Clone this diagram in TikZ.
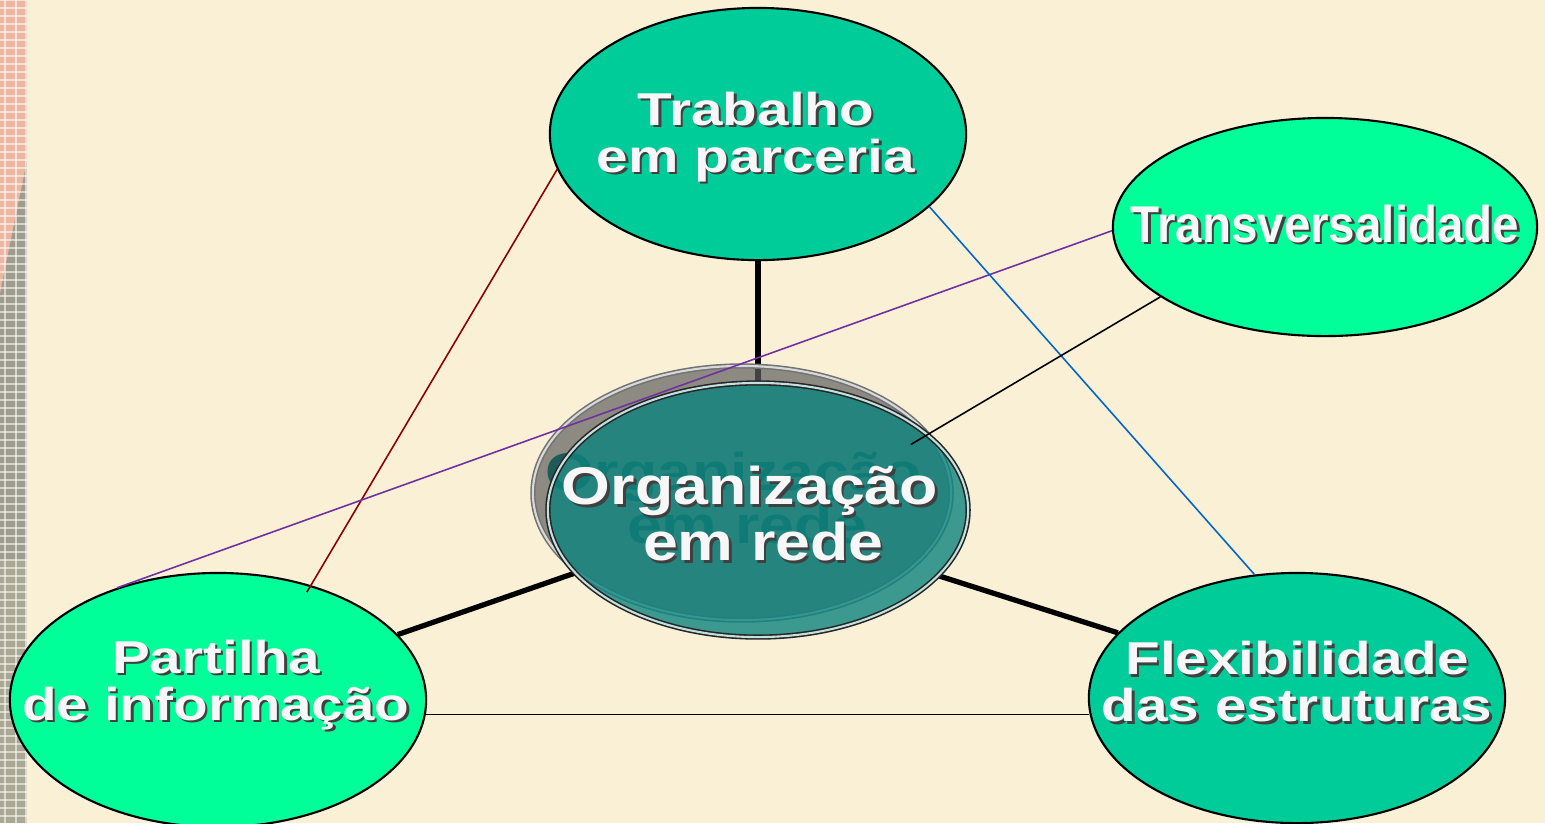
\documentclass[tikz,border=0pt]{standalone}
\usepackage{fontspec}
\setmainfont{Liberation Sans}
\newfontfamily\lblfont{Liberation Sans}[FakeStretch=1.23]
\newfontfamily\trfont{Liberation Sans}[FakeStretch=0.92]
\newfontfamily\orgfont{Liberation Sans}[FakeStretch=1.18]
\usetikzlibrary{shapes.geometric,backgrounds}

\definecolor{paper}{RGB}{250,240,214}
\definecolor{mint}{RGB}{0,204,153}
\definecolor{lightmint}{RGB}{0,255,153}
\definecolor{orgteal}{RGB}{12,132,126}
\definecolor{ghost}{RGB}{30,90,88}
\definecolor{shadowgray}{RGB}{95,95,95}
\definecolor{linkred}{RGB}{139,0,0}
\definecolor{linkpurple}{RGB}{112,48,160}
\definecolor{linkblue}{RGB}{0,102,204}
\definecolor{strippink}{RGB}{236,182,160}
\definecolor{stripgray}{RGB}{158,156,140}
\definecolor{stripgreen}{RGB}{170,168,146}

% white text with a dark drop shadow
\newcommand\shtxt[1]{\leavevmode\rlap{\kern0.7pt\raisebox{-0.7pt}{\textcolor{black!75}{#1}}}#1}

\begin{document}
\begin{tikzpicture}[x=0.01cm,y=-0.01cm,
   bub/.style={ellipse, draw=black, line width=0.6pt, inner sep=0pt},
   lbl/.style={text=white!97!black, align=center, inner sep=0pt,
      font=\lblfont\bfseries\fontsize{13.1}{13.4}\selectfont},
   orglbl/.style={lbl, font=\orgfont\bfseries\fontsize{15.1}{13.9}\selectfont},
   thickln/.style={line width=1.5pt},
   thinln/.style={line width=0.45pt}]
   \useasboundingbox (0,0) rectangle (1545,823);

   % outer bubbles
   \node[bub, fill=mint, minimum width=4.16cm, minimum height=2.52cm] (trab) at (758,134) {};
   \node[bub, fill=lightmint, minimum width=4.24cm, minimum height=2.18cm] (trans) at (1325,227) {};
   \node[bub, fill=lightmint, minimum width=4.16cm, minimum height=2.54cm] (part) at (218,700) {};
   \node[bub, fill=mint, minimum width=4.16cm, minimum height=2.50cm] (flex) at (1297,698) {};

   % centre bubble with its shadow
   \node[bub, draw=black!55, line width=0.45pt, double=white!85!black, double distance=0.6pt,
      fill=shadowgray, fill opacity=0.7, minimum width=4.18cm, minimum height=2.54cm] (orgsh) at (742,493) {};
   \node[orglbl, text=ghost] (orgsh-txt) at (734,498) {Organização\\\hspace*{0.5em}em rede};
   \node[bub, draw=black!85, line width=0.45pt, double=white!75!orgteal, double distance=0.6pt,
      fill=orgteal, fill opacity=0.8, minimum width=4.2cm, minimum height=2.54cm] (org) at (758,510) {};

   % labels
   \node[lbl] (trab-txt) at (756,138) {\shtxt{Trabalho}\\\shtxt{em parceria}};
   \node[lbl, font=\trfont\bfseries\fontsize{14.7}{15}\selectfont] (trans-txt) at (1325,225) {\shtxt{Transversalidade}};
   \node[lbl] (part-txt) at (216,686) {\shtxt{Partilha}\\\shtxt{de informação}};
   \node[lbl] (flex-txt) at (1297,683) {\shtxt{Flexibilidade}\\\shtxt{das estruturas}};
   \node[orglbl] (org-txt) at (750,515) {\shtxt{Organização}\\\hspace*{0.5em}\shtxt{em rede}};

   \begin{scope}[on background layer]
      \fill[paper] (0,0) rectangle (1545,823);
      % left strip
      \fill[stripgray] (0,0) rectangle (27,823);
      \fill[stripgreen] (0,560) rectangle (27,823);
      \fill[strippink] (0,0) -- (27,0) -- (27,160) -- (0,293) -- cycle;
      \foreach \gy in {0,8,...,822}
         \draw[white, opacity=0.55, line width=0.3pt] (0,\gy) -- (27,\gy);
      \foreach \gx in {5,16,26}
         \draw[white, opacity=0.55, line width=0.3pt] (\gx,0) -- (\gx,823);
      % spokes
      \draw[thickln] (trab.south) -- (org.north);
      \draw[thickln] (part.20) -- (org.199);
      \draw[thickln] (org.340) -- (flex.160.6);
   \end{scope}

   % cross links
   \draw[thinln, linkred, shorten >=-0.08cm] (trab.190) -- (part.51);
   \draw[thinln, linkpurple] (trans.181) -- (part.132);
   \draw[thinln, linkblue] (trab.337) -- (flex.109);
   \draw[thinln, shorten >=-0.2cm] (trans.203) -- (org.24);
   \draw[thinln] (part.356) -- (part.356 -| flex.184);
\end{tikzpicture}
\end{document}
